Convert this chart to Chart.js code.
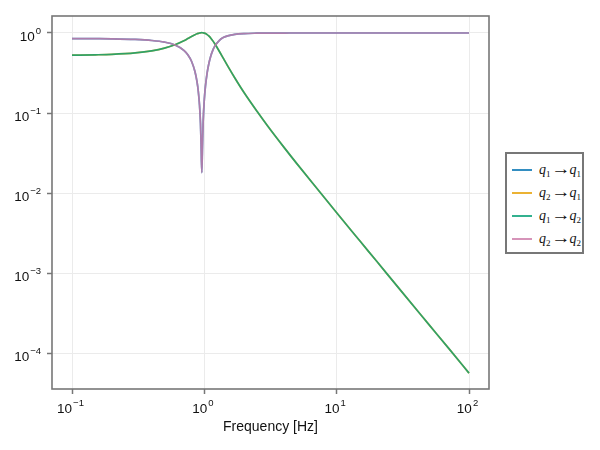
<!DOCTYPE html>
<html>
<head>
<meta charset="utf-8">
<script src="https://cdn.jsdelivr.net/npm/chart.js@4.4.1/dist/chart.umd.min.js"></script>
<style>
  body { margin: 0; background: #fff; }
  #wrap { position: relative; width: 600px; height: 450px; }
  #legend { position: absolute; left: 505px; top: 152px; width: 75px; height: 98px;
            border: 2px solid #777; background: #fff; }
  .row { position: absolute; left: 0; height: 20px; width: 75px; }
  .swatch { position: absolute; left: 5px; top: 9px; width: 20px; height: 2px; }
  .lbl { position: absolute; left: 32px; top: 0px; font-family: "Liberation Serif", "DejaVu Serif", serif;
         font-size: 14px; color: #111; white-space: nowrap; line-height: 18px; }
  .lbl i { font-style: italic; }
  .lbl sub { font-size: 9px; vertical-align: -3px; line-height: 0; font-style: normal; }
  .lbl .arr { display: inline-block; font-size: 16px; margin: 0 1px 0 2px; transform: scaleX(1.2); }
</style>
</head>
<body>
<div id="wrap">
  <canvas id="c" width="600" height="450"></canvas>
  <div id="legend"></div>
</div>
<script>
// ---- data ----
const freqs = [0.1, 0.15, 0.2, 0.3, 0.4, 0.5, 0.6, 0.7, 0.75, 0.8, 0.85, 0.88, 0.9, 0.92, 0.935, 0.945,
  0.957, 0.968, 0.98, 1.0, 1.02, 1.05, 1.08, 1.12, 1.16, 1.2, 1.3, 1.4, 1.5, 1.7, 2, 2.5, 3, 4, 5, 7,
  10, 15, 20, 30, 50, 70, 100];
const q1q1 = [0.852, 0.849, 0.845, 0.830, 0.806, 0.768, 0.707, 0.608, 0.536, 0.444, 0.328, 0.246, 0.187, 0.124,
  0.075, 0.041, 0.018, 0.038, 0.080, 0.149, 0.218, 0.318, 0.410, 0.519, 0.611, 0.685, 0.811, 0.882, 0.922,
  0.962, 0.984, 0.994, 0.998, 0.999, 1.0, 1.0, 1.0, 1.0, 1.0, 1.0, 1.0, 1.0, 1.0];
const q2q1 = [0.528, 0.534, 0.541, 0.564, 0.598, 0.647, 0.714, 0.801, 0.852, 0.904, 0.952, 0.977, 0.990, 1.000,
  1.005, 1.007, 1.008, 1.007, 1.005, 0.996, 0.983, 0.955, 0.919, 0.861, 0.797, 0.733, 0.588, 0.474, 0.388,
  0.274, 0.179, 0.105, 0.0693, 0.0372, 0.0233, 0.0117, 0.00567, 0.00251, 0.00141, 0.000624, 0.000225,
  0.000115, 0.0000561];
const q1q2 = [0.528, 0.534, 0.541, 0.564, 0.598, 0.647, 0.714, 0.801, 0.852, 0.904, 0.952, 0.977, 0.990, 1.000,
  1.005, 1.007, 1.008, 1.007, 1.005, 0.996, 0.983, 0.955, 0.919, 0.861, 0.797, 0.733, 0.588, 0.474, 0.388,
  0.274, 0.179, 0.105, 0.0693, 0.0372, 0.0233, 0.0117, 0.00567, 0.00251, 0.00141, 0.000624, 0.000225,
  0.000115, 0.0000561];
const q2q2 = [0.852, 0.849, 0.845, 0.830, 0.806, 0.768, 0.707, 0.608, 0.536, 0.444, 0.328, 0.246, 0.187, 0.124,
  0.075, 0.041, 0.018, 0.038, 0.080, 0.149, 0.218, 0.318, 0.410, 0.519, 0.611, 0.685, 0.811, 0.882, 0.922,
  0.962, 0.984, 0.994, 0.998, 0.999, 1.0, 1.0, 1.0, 1.0, 1.0, 1.0, 1.0, 1.0, 1.0];

const seriesNames = [["1","1"], ["2","1"], ["1","2"], ["2","2"]];
const xTicks = [0.1, 1, 10, 100];
const xTickExp = ["\u22121", "0", "1", "2"];
const yTicks = [0.0001, 0.001, 0.01, 0.1, 1];
const yTickExp = ["\u22124", "\u22123", "\u22122", "\u22121", "0"];
const tickBase = "10";
const xTitle = "Frequency [Hz]";

const colors = ["rgba(0,114,178,0.8)", "rgba(230,159,0,0.8)", "rgba(0,158,115,0.8)", "rgba(204,121,167,0.8)"];
const seriesData = [q1q1, q2q1, q1q2, q2q2];

const datasets = seriesData.map((arr, i) => ({
  label: "q" + seriesNames[i][0] + " → q" + seriesNames[i][1],
  data: freqs.map((f, j) => ({ x: f, y: arr[j] })),
  borderColor: colors[i],
  borderWidth: 1.7,
  pointRadius: 0,
  fill: false,
  cubicInterpolationMode: 'monotone',
  order: 3 - i
}));

const FONT = '"Liberation Sans", Arial, sans-serif';

// frame + power-of-ten tick labels with real superscripts
const frame = {
  id: 'frame',
  afterDraw(chart) {
    const { ctx, chartArea: a, scales } = chart;
    ctx.save();
    ctx.strokeStyle = '#777';
    ctx.lineWidth = 1.6;
    ctx.strokeRect(a.left, a.top, a.right - a.left, a.bottom - a.top);

    ctx.fillStyle = '#111';
    ctx.textBaseline = 'alphabetic';
    ctx.textAlign = 'left';
    const baseFont = '13.5px ' + FONT, expFont = '9.5px ' + FONT;
    const measure = (exp) => {
      ctx.font = baseFont; const wb = ctx.measureText(tickBase).width;
      ctx.font = expFont; const we = ctx.measureText(exp).width;
      return [wb, we];
    };
    xTicks.forEach((v, i) => {
      const px = scales.x.getPixelForValue(v);
      const [wb, we] = measure(xTickExp[i]);
      const x0 = px - (wb + we + 1) / 2 - 1.5;
      ctx.font = baseFont; ctx.fillText(tickBase, x0, 413);
      ctx.font = expFont; ctx.fillText(xTickExp[i], x0 + wb + 1, 406);
    });
    yTicks.forEach((v, i) => {
      const py = scales.y.getPixelForValue(v);
      const [wb, we] = measure(yTickExp[i]);
      const right = 41;
      const x0 = right - we - 1 - wb;
      ctx.font = baseFont; ctx.fillText(tickBase, x0, py + 8);
      ctx.font = expFont; ctx.fillText(yTickExp[i], x0 + wb + 1, py + 1);
    });
    ctx.restore();
  }
};

new Chart(document.getElementById('c'), {
  type: 'line',
  data: { datasets },
  plugins: [frame],
  options: {
    responsive: false,
    animation: false,
    layout: { padding: { left: 0, top: 16, right: 111, bottom: 14 } },
    plugins: { legend: { display: false }, tooltip: { enabled: false } },
    scales: {
      x: {
        type: 'logarithmic',
        min: 0.0706, max: 141.6,
        afterBuildTicks: (s) => { s.ticks = xTicks.map(v => ({ value: v })); },
        afterFit: (s) => { s.height = 47; },
        ticks: { display: false },
        grid: { color: '#ebebeb', lineWidth: 1, drawTicks: true, tickLength: 5, tickColor: '#777', tickWidth: 1.5 },
        border: { display: false },
        title: { display: true, text: xTitle, color: '#111',
                 font: { family: FONT, size: 14 }, padding: { top: 0, bottom: 0 } }
      },
      y: {
        type: 'logarithmic',
        min: 0.0000355, max: 1.631,
        afterBuildTicks: (s) => { s.ticks = yTicks.map(v => ({ value: v })); },
        afterFit: (s) => { s.width = 52; },
        ticks: { display: false },
        grid: { color: '#ebebeb', lineWidth: 1, drawTicks: true, tickLength: 5, tickColor: '#777', tickWidth: 1.5 },
        border: { display: false }
      }
    }
  }
});

// HTML legend
const leg = document.getElementById('legend');
seriesNames.forEach((n, i) => {
  const row = document.createElement('div');
  row.className = 'row';
  row.style.top = (6 + i * 23) + 'px';
  row.innerHTML = '<span class="swatch" style="background:' + colors[i] + '"></span>' +
    '<span class="lbl"><i>q</i><sub>' + n[0] + '</sub><span class="arr">\u2192</span><i>q</i><sub>' + n[1] + '</sub></span>';
  leg.appendChild(row);
});
</script>
</body>
</html>
